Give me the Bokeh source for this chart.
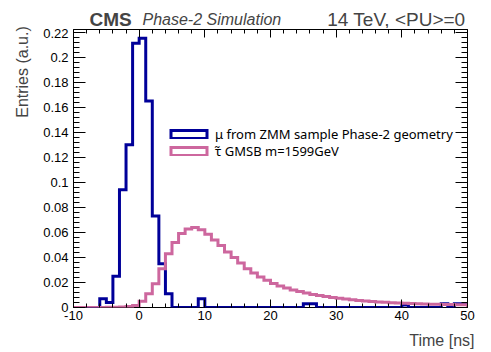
import numpy as np
from bokeh.plotting import figure
from bokeh.layouts import row, column
from bokeh.models import (FixedTicker, LinearAxis, Label, Legend, LegendItem,
                          CustomJSTickFormatter, Range1d)
from bokeh.embed import file_html
from bokeh.resources import INLINE

# ---------------- data ----------------
bin_edges = list(range(-10, 51))          # 1 ns bins, -10 .. 50

mu_values = [
    0, 0, 0, 0,                                   # -10 .. -7
    0.007, 0.004, 0.025, 0.094, 0.130,            # -6 .. -2
    0.211, 0.215, 0.165, 0.073, 0.035, 0.011,     # -1 .. 4
    0, 0, 0, 0,                                   # 5 .. 8
    0.007,                                        # 9
    0, 0, 0, 0, 0, 0, 0, 0, 0, 0, 0, 0, 0, 0, 0,  # 10 .. 24
    0.003, 0.003,                                 # 25, 26
    0, 0, 0, 0, 0, 0, 0, 0, 0, 0, 0, 0, 0,        # 27 .. 39
    0.002,                                        # 40
    0, 0, 0, 0, 0,                                # 41 .. 45
    0.003, 0.0, 0.003, 0.003,                     # 46 .. 49
]

stau_values = [
    0, 0, 0, 0, 0, 0.0001, 0.0002,                # -10 .. -4
    0.0003, 0.0007, 0.0015,                       # -3 .. -1
    0.005, 0.011, 0.019, 0.031, 0.043,            # 0 .. 4
    0.052, 0.059, 0.0627, 0.0638, 0.062,          # 5 .. 9
    0.0585, 0.054, 0.0495, 0.0444, 0.040,         # 10 .. 14
    0.0356, 0.031, 0.0276, 0.0243, 0.0218,        # 15 .. 19
    0.0192, 0.0172, 0.0155, 0.014, 0.0127,        # 20 .. 24
    0.0115, 0.0104, 0.0095, 0.0087, 0.0080,       # 25 .. 29
    0.0073, 0.0067, 0.0061, 0.0056, 0.0052,       # 30 .. 34
    0.0048, 0.0044, 0.0041, 0.0038, 0.0036,       # 35 .. 39
    0.0034, 0.0032, 0.0030, 0.0028, 0.0026,       # 40 .. 44
    0.0025, 0.0024, 0.0023, 0.0022, 0.0021,       # 45 .. 49
]

x_ticks = [-10, 0, 10, 20, 30, 40, 50]
y_ticks = [0, 0.02, 0.04, 0.06, 0.08, 0.10, 0.12, 0.14, 0.16, 0.18, 0.20, 0.22]

mu_label = "\u03bc from ZMM sample Phase-2 geometry"
stau_label = "\u03c4\u0303 GMSB m=1599GeV"

BLUE = "#000099"
PINK = "#cd679e"
FONT = "Liberation Sans"

# ---------------- layout (window pixels) ----------------
WIN_W, WIN_H = 491, 352
LEFT_W = 38           # strip holding the y title
HEAD_H = 28           # strip holding the header
FOOT_H = 26           # strip holding the x title
MAIN_W = WIN_W - LEFT_W
MAIN_H = WIN_H - HEAD_H - FOOT_H
X0, X1 = -10, 50
Y0, Y1 = 0, 0.222


def text_fig(w, h):
    f = figure(width=w, height=h, output_backend="svg", toolbar_location=None,
               x_range=Range1d(0, w), y_range=Range1d(0, h),
               x_axis_type=None, y_axis_type=None, min_border=0,
               frame_align=False)
    f.outline_line_color = None
    f.background_fill_color = "white"
    f.border_fill_color = "white"
    return f


# header strip: window x = LEFT_W + data x, window y = HEAD_H - data y
HEAD_BASE = 18.5
head = text_fig(MAIN_W, HEAD_H)
head.add_layout(Label(x=89 - LEFT_W, y=HEAD_H - HEAD_BASE, text="CMS", text_font=FONT,
                      text_font_style="bold", text_font_size="19px",
                      text_align="left", text_baseline="alphabetic"))
head.add_layout(Label(x=142 - LEFT_W, y=HEAD_H - HEAD_BASE, text="Phase-2 Simulation",
                      text_font=FONT, text_font_style="italic", text_font_size="16px",
                      text_align="left", text_baseline="alphabetic"))
head.add_layout(Label(x=465 - LEFT_W, y=HEAD_H - HEAD_BASE, text="14 TeV, <PU>=0",
                      text_font=FONT, text_font_size="19px",
                      text_align="right", text_baseline="alphabetic"))

# y title strip (rotated text, anchored at its centre)
ystrip_h = HEAD_H + MAIN_H
ystrip = text_fig(LEFT_W, ystrip_h)
ystrip.add_layout(Label(x=21.5, y=ystrip_h - 71.5, text="Entries (a.u.)", angle=np.pi / 2,
                        text_font=FONT, text_font_size="16px",
                        text_align="center", text_baseline="middle"))

# x title strip
foot = text_fig(WIN_W, FOOT_H)
foot.add_layout(Label(x=474, y=FOOT_H - 14, text="Time [ns]",
                      text_font=FONT, text_font_size="16px",
                      text_align="right", text_baseline="alphabetic"))

# ---------------- main plot ----------------
p = figure(width=MAIN_W, height=MAIN_H, output_backend="svg", toolbar_location=None,
           x_range=Range1d(X0, X1), y_range=Range1d(Y0, Y1),
           min_border_left=35, min_border_right=24,
           min_border_top=1, min_border_bottom=19, frame_align=False)
p.xgrid.visible = False
p.ygrid.visible = False
p.outline_line_color = "black"
p.outline_line_width = 1
p.background_fill_color = "white"
p.border_fill_color = "white"

x_minor = [float(v) for v in np.arange(-10, 50.001, 2)]
y_minor = [float(v) for v in np.round(np.arange(0, 0.2221, 0.004), 4)]


def tick_style(ax, major_len, minor_len):
    ax.axis_line_color = None
    ax.major_tick_in = major_len
    ax.major_tick_out = 0
    ax.minor_tick_in = minor_len
    ax.minor_tick_out = 0
    ax.major_tick_line_color = "black"
    ax.minor_tick_line_color = "black"


xa = p.xaxis[0]
xa.ticker = FixedTicker(ticks=x_ticks, minor_ticks=x_minor)
tick_style(xa, 8, 4)
xa.formatter = CustomJSTickFormatter(code="return tick.toFixed(0);")
xa.major_label_text_font = FONT
xa.major_label_text_font_size = "13px"
xa.major_label_text_color = "black"
xa.major_label_standoff = 3

ya = p.yaxis[0]
ya.ticker = FixedTicker(ticks=y_ticks, minor_ticks=y_minor)
tick_style(ya, 12, 6)
ya.formatter = CustomJSTickFormatter(code="""
    var s = tick.toFixed(2);
    if (s.indexOf('.') >= 0) { s = s.replace(/0+$/, '').replace(/\\.$/, ''); }
    return s;""")
ya.major_label_text_font = FONT
ya.major_label_text_font_size = "13px"
ya.major_label_text_color = "black"
ya.major_label_standoff = 5

# mirrored ticks on top / right (no labels): tick-only axes
for positions, length, side in [(x_minor, 4, "above"), (x_ticks, 8, "above"),
                                (y_minor, 6, "right"), (y_ticks, 12, "right")]:
    ax = LinearAxis(ticker=FixedTicker(ticks=[], minor_ticks=list(positions)))
    tick_style(ax, length, length)
    ax.major_label_standoff = 0
    p.add_layout(ax, side)

# ---------------- histograms ----------------
def step_path(edges, vals):
    xs = np.repeat(np.asarray(edges, dtype=float), 2)
    ys = np.concatenate([[0.0], np.repeat(np.asarray(vals, dtype=float), 2), [0.0]])
    return xs, ys


mx, my = step_path(bin_edges, mu_values)
sx, sy = step_path(bin_edges, stau_values)
p.line(mx, my, line_color=BLUE, line_width=3, line_join="miter")
p.line(sx, sy, line_color=PINK, line_width=3, line_join="miter")

# legend proxies (outlined boxes, ROOT style) - degenerate, hidden under the lines
q_mu = p.quad(left=[bin_edges[0]], right=[bin_edges[0]], top=[0], bottom=[0],
              fill_alpha=0, line_color=BLUE, line_width=3, line_join="miter")
q_st = p.quad(left=[bin_edges[0]], right=[bin_edges[0]], top=[0], bottom=[0],
              fill_alpha=0, line_color=PINK, line_width=3, line_join="miter")

for lab, rend, loc_y in [(mu_label, q_mu, 164), (stau_label, q_st, 147)]:
    leg = Legend(items=[LegendItem(label=lab, renderers=[rend])],
                 location=(93, loc_y), orientation="vertical",
                 border_line_color=None, background_fill_alpha=0,
                 padding=0, margin=0, spacing=0,
                 glyph_width=45, glyph_height=10, label_height=10,
                 label_standoff=4, label_text_font="Noto Sans",
                 label_text_font_size="13px", label_text_color="black")
    p.add_layout(leg)

layout = column(row(ystrip, column(head, p)), foot)
open("out.html", "w").write(file_html(layout, INLINE))
